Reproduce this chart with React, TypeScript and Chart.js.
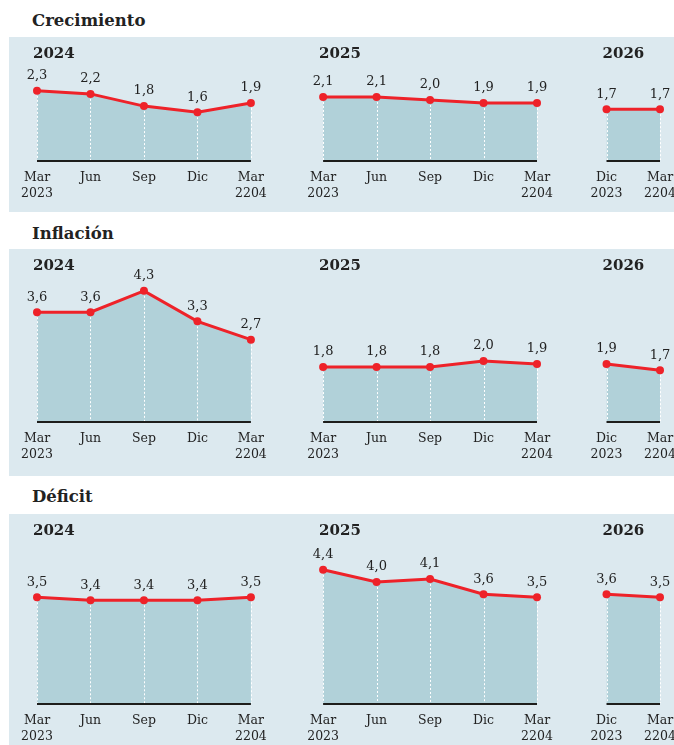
import React, { useEffect, useRef } from 'react';
import { Chart, registerables } from 'chart.js';

Chart.register(...registerables);

// ---------- data ----------
const YEARS = ['2024', '2025', '2026'];
const QUARTER_LABELS: string[][] = [['Mar', '2023'], ['Jun'], ['Sep'], ['Dic'], ['Mar', '2204']];
const LAST_LABELS: string[][] = [['Dic', '2023'], ['Mar', '2204']];

const crecimiento2024 = [2.3, 2.2, 1.8, 1.6, 1.9];
const crecimiento2025 = [2.1, 2.1, 2.0, 1.9, 1.9];
const crecimiento2026 = [1.7, 1.7];

const inflacion2024 = [3.6, 3.6, 4.3, 3.3, 2.7];
const inflacion2025 = [1.8, 1.8, 1.8, 2.0, 1.9];
const inflacion2026 = [1.9, 1.7];

const deficit2024 = [3.5, 3.4, 3.4, 3.4, 3.5];
const deficit2025 = [4.4, 4.0, 4.1, 3.6, 3.5];
const deficit2026 = [3.6, 3.5];

// ---------- style ----------
const SERIF = '"DejaVu Serif", "Liberation Serif", serif';
const TEXT = '#222222';
const RED = '#ee2229';
const FILL = '#b1d1d9';
const PANEL_BG = '#dce9ef';
const PX_PER_UNIT = 30.5;
const GROUP_STARTS = [0, 5.35, 10.65];
const X_MAX = 11.65;

Chart.defaults.font.family = SERIF;

const fmt = (v: number) => v.toFixed(1).replace('.', ',');

const decorPlugin = {
  id: 'decor',
  afterDatasetsDraw(chart: any) {
    const { ctx } = chart;
    const y = chart.scales.y;
    const base = y.getPixelForValue(0);
    ctx.save();
    chart.data.datasets.forEach((ds: any, di: number) => {
      const meta = chart.getDatasetMeta(di);
      const pts = meta.data as any[];
      // dotted white verticals
      ctx.strokeStyle = '#ffffff';
      ctx.lineWidth = 1;
      ctx.setLineDash([2, 2]);
      pts.forEach((p) => {
        const px = Math.round(p.x) + 0.5;
        ctx.beginPath();
        ctx.moveTo(px, p.y + 5);
        ctx.lineTo(px, base - 1);
        ctx.stroke();
      });
      ctx.setLineDash([]);
      // baseline
      ctx.strokeStyle = '#1d1d1b';
      ctx.lineWidth = 2;
      ctx.beginPath();
      ctx.moveTo(pts[0].x, base);
      ctx.lineTo(pts[pts.length - 1].x, base);
      ctx.stroke();
      // value labels
      ctx.fillStyle = TEXT;
      ctx.font = `13px ${SERIF}`;
      ctx.textAlign = 'center';
      ctx.textBaseline = 'middle';
      pts.forEach((p, i) => {
        ctx.fillText(fmt(ds.data[i].y), p.x, p.y - 15);
      });
      // year label
      ctx.font = `bold 15px ${SERIF}`;
      ctx.textAlign = 'left';
      ctx.fillText(YEARS[di], pts[0].x - 4, chart.chartArea.top + 17.5);
    });
    ctx.restore();
  },
};

interface PanelProps {
  top: number;
  height: number;
  baseline: number;
  series: number[][];
}

function PanelChart({ top, height, baseline, series }: PanelProps) {
  const ref = useRef<HTMLCanvasElement>(null);
  useEffect(() => {
    const canvas = ref.current!;
    const axisH = height - baseline;
    const yMax = baseline / PX_PER_UNIT;
    const tickValues: number[] = [];
    const tickLabels: string[][] = [];
    GROUP_STARTS.forEach((s, g) => {
      const labels = g === 2 ? LAST_LABELS : QUARTER_LABELS;
      labels.forEach((l, i) => {
        tickValues.push(s + i);
        tickLabels.push(l);
      });
    });
    const datasets = series.map((vals, g) => ({
      data: vals.map((v, i) => ({ x: GROUP_STARTS[g] + i, y: v })),
      borderColor: RED,
      backgroundColor: FILL,
      fill: 'origin',
      borderWidth: 3,
      pointRadius: 4,
      pointBackgroundColor: RED,
      pointBorderWidth: 0,
      tension: 0,
      clip: false,
    }));
    const chart = new Chart(canvas, {
      type: 'line',
      data: { datasets } as any,
      options: {
        animation: false,
        responsive: false,
        maintainAspectRatio: false,
        layout: { autoPadding: false, padding: { left: 37, right: 674 - 660, top: 0, bottom: 0 } },
        plugins: { legend: { display: false }, tooltip: { enabled: false } },
        scales: {
          x: {
            type: 'linear',
            min: 0,
            max: X_MAX,
            grid: { display: false, drawTicks: false },
            border: { display: false },
            afterBuildTicks: (axis: any) => {
              axis.ticks = tickValues.map((v) => ({ value: v }));
            },
            afterFit: (axis: any) => {
              axis.height = axisH;
              axis.paddingLeft = 0;
              axis.paddingRight = 0;
            },
            ticks: {
              autoSkip: false,
              maxRotation: 0,
              minRotation: 0,
              padding: 8,
              color: TEXT,
              font: { family: SERIF, size: 12.5, lineHeight: 1.32 },
              callback: (_v: any, i: number) => tickLabels[i],
            },
          },
          y: {
            display: false,
            min: 0,
            max: yMax,
            ticks: { display: false },
            afterFit: (axis: any) => {
              axis.paddingTop = 0;
              axis.paddingBottom = 0;
            },
          },
        },
      } as any,
      plugins: [decorPlugin],
    });
    return () => chart.destroy();
  }, []);
  return (
    <canvas
      ref={ref}
      width={674}
      height={height}
      style={{ position: 'absolute', left: 0, top, width: 674, height }}
    />
  );
}

const titleStyle = (top: number): React.CSSProperties => ({
  position: 'absolute',
  left: 32,
  top,
  fontFamily: SERIF,
  fontWeight: 'bold',
  fontSize: 16.5,
  lineHeight: '20px',
  color: TEXT,
  whiteSpace: 'nowrap',
});

const panelStyle = (top: number, height: number): React.CSSProperties => ({
  position: 'absolute',
  left: 9,
  top,
  width: 665,
  height,
  background: PANEL_BG,
});

export default function App() {
  return (
    <div
      style={{
        position: 'absolute',
        left: 0,
        top: 0,
        width: 674,
        height: 745,
        overflow: 'hidden',
        background: '#ffffff',
      }}
    >
      <div style={titleStyle(11)}>Crecimiento</div>
      <div style={panelStyle(37, 175)} />
      <PanelChart top={37} height={175} baseline={124} series={[crecimiento2024, crecimiento2025, crecimiento2026]} />

      <div style={titleStyle(224)}>Inflación</div>
      <div style={panelStyle(249, 227)} />
      <PanelChart top={249} height={227} baseline={173} series={[inflacion2024, inflacion2025, inflacion2026]} />

      <div style={titleStyle(487)}>Déficit</div>
      <div style={panelStyle(514, 231)} />
      <PanelChart top={514} height={231} baseline={190} series={[deficit2024, deficit2025, deficit2026]} />
    </div>
  );
}
